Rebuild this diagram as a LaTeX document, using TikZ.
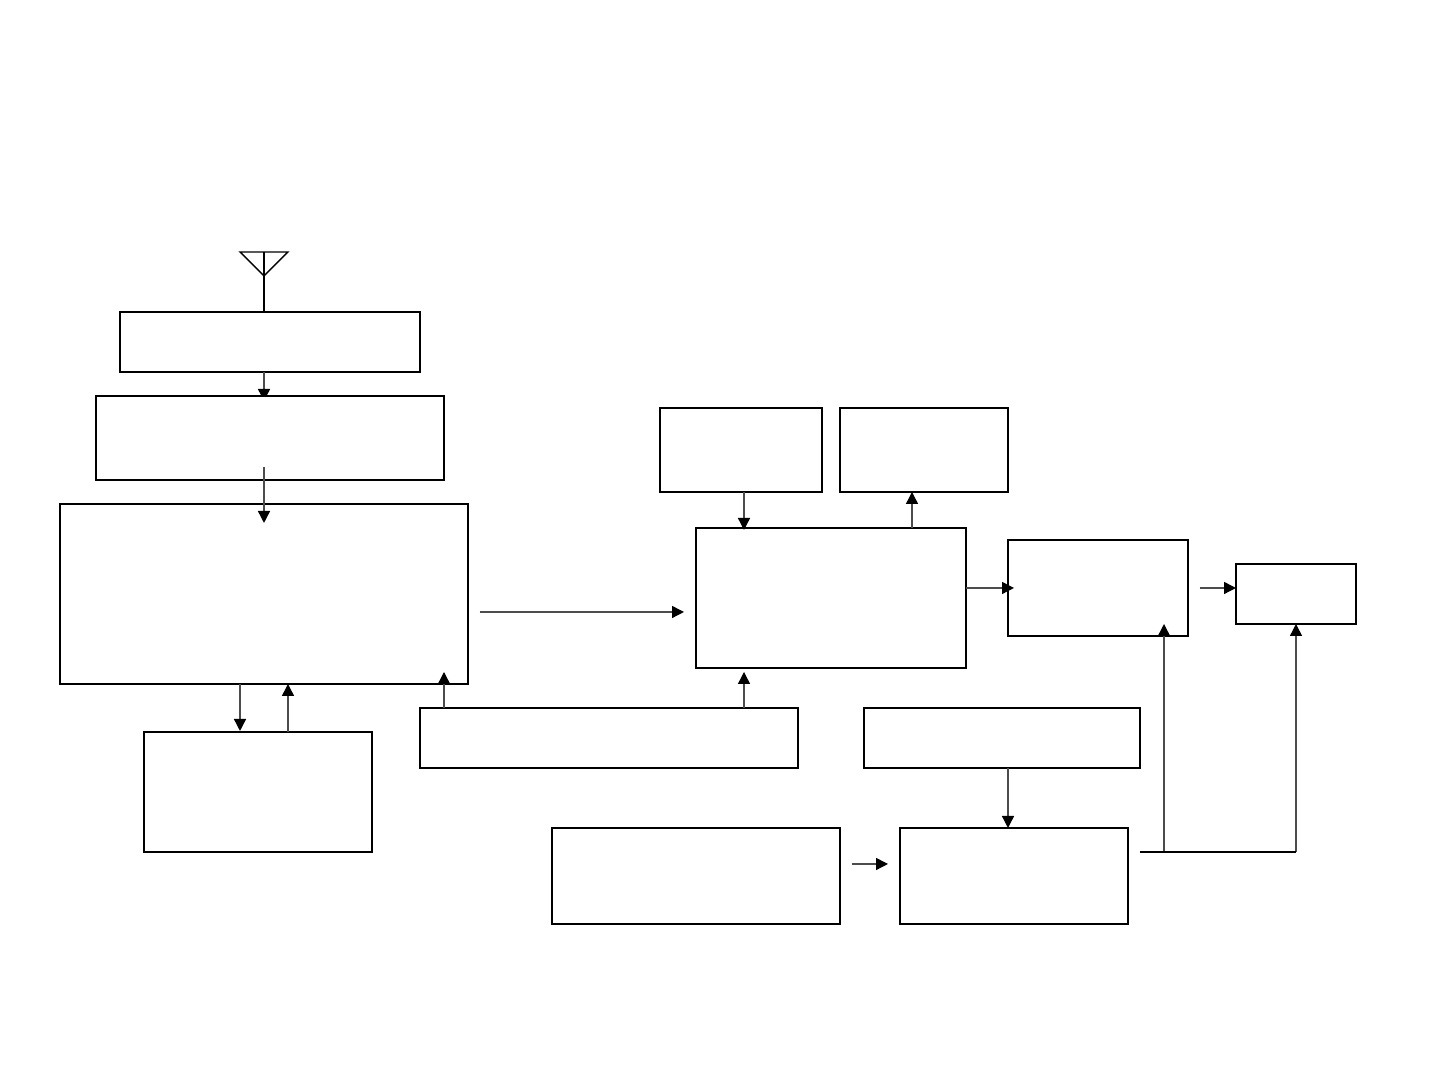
\documentclass[tikz,border=0pt]{standalone}
\usetikzlibrary{arrows.meta}
\begin{document}
\begin{tikzpicture}[
  blockbox/.style={rectangle, draw=black, fill=white, line width=0.5pt, inner sep=0pt, outer sep=0pt},
  arrow/.style={-{Triangle[length=0.12cm, width=0.12cm, color=black]}, line width=0.4pt, black!70}
]
  \useasboundingbox (0,0) rectangle (14.4,10.8);

  % Antenna and receive chain (left)
  \coordinate (antleft) at (2.40,8.28);
  \coordinate (antright) at (2.88,8.28);
  \coordinate (anttop) at (2.64,8.28);
  \coordinate (antfoot) at (2.64,8.04);
  \node[blockbox, minimum width=3cm, minimum height=0.6cm] (filterbox) at (2.70,7.38) {};
  \coordinate (filterout) at (2.64,7.08);
  \coordinate (tunerin) at (2.64,6.79);
  \coordinate (antbase) at (2.64,7.68);
  \draw[line width=0.4pt] (antleft) -- (antright) -- (antfoot) -- cycle;
  \draw[line width=0.4pt] (anttop) -- (antbase);
  \draw[arrow] (filterout) -- (tunerin);
  \node[blockbox, minimum width=3.48cm, minimum height=0.84cm] (tunerbox) at (2.70,6.42) {};
  \node[blockbox, minimum width=4.08cm, minimum height=1.8cm] (mainbox) at (2.64,4.86) {};
  \node[blockbox, minimum width=2.28cm, minimum height=1.2cm] (memorybox) at (2.58,2.88) {};

  % Lower control row
  \node[blockbox, minimum width=3.78cm, minimum height=0.6cm] (ctrlbox) at (6.09,3.42) {};
  \node[blockbox, minimum width=2.76cm, minimum height=0.6cm] (supplybox) at (10.02,3.42) {};
  \node[blockbox, minimum width=2.88cm, minimum height=0.96cm] (clockbox) at (6.96,2.04) {};
  \node[blockbox, minimum width=2.28cm, minimum height=0.96cm] (powerbox) at (10.14,2.04) {};

  % Decoder and output chain (right)
  \node[blockbox, minimum width=1.62cm, minimum height=0.84cm] (inbox) at (7.41,6.30) {};
  \node[blockbox, minimum width=1.68cm, minimum height=0.84cm] (outbox) at (9.24,6.30) {};
  \node[blockbox, minimum width=2.7cm, minimum height=1.4cm] (decodebox) at (8.31,4.82) {};
  \node[blockbox, minimum width=1.8cm, minimum height=0.96cm] (ampbox) at (10.98,4.92) {};
  \node[blockbox, minimum width=1.2cm, minimum height=0.6cm] (endbox) at (12.96,4.86) {};

  % Free ends of the arrows
  \coordinate (tunerout) at (2.64,6.13);
  \coordinate (mainin) at (2.64,5.57);
  \coordinate (maindown) at (2.40,3.96);
  \coordinate (memoryin) at (2.40,3.49);
  \coordinate (memoryup) at (2.88,3.48);
  \coordinate (mainup) at (2.88,3.96);
  \coordinate (ctrlleft) at (4.44,3.72);
  \coordinate (mainctrl) at (4.44,4.08);
  \coordinate (ctrlright) at (7.44,3.72);
  \coordinate (decodectrl) at (7.44,4.08);
  \coordinate (mainout) at (4.795,4.68);
  \coordinate (decodein) at (6.84,4.68);
  \coordinate (indown) at (7.44,5.88);
  \coordinate (decodetop) at (7.44,5.50);
  \coordinate (decodeup) at (9.12,5.52);
  \coordinate (outin) at (9.12,5.88);
  \coordinate (decodeout) at (9.66,4.92);
  \coordinate (ampin) at (10.14,4.92);
  \coordinate (ampout) at (11.995,4.92);
  \coordinate (endin) at (12.36,4.92);
  \coordinate (supplyout) at (10.08,3.12);
  \coordinate (powerin) at (10.08,2.52);
  \coordinate (clockout) at (8.515,2.16);
  \coordinate (powerleft) at (8.88,2.16);
  \coordinate (busstart) at (11.395,2.28);
  \coordinate (busamp) at (11.64,2.28);
  \coordinate (busend) at (12.96,2.28);
  \coordinate (ampfeed) at (11.64,4.56);
  \coordinate (endfeed) at (12.96,4.56);

  % Arrows
  \draw[arrow] (tunerout) -- (mainin);
  \draw[arrow] (maindown) -- (memoryin);
  \draw[arrow] (memoryup) -- (mainup);
  \draw[arrow] (ctrlleft) -- (mainctrl);
  \draw[arrow] (ctrlright) -- (decodectrl);
  \draw[arrow] (mainout) -- (decodein);
  \draw[arrow] (indown) -- (decodetop);
  \draw[arrow] (decodeup) -- (outin);
  \draw[arrow] (decodeout) -- (ampin);
  \draw[arrow] (ampout) -- (endin);
  \draw[arrow] (supplyout) -- (powerin);
  \draw[arrow] (clockout) -- (powerleft);
  \draw[arrow] (busamp) -- (ampfeed);
  \draw[arrow] (busend) -- (endfeed);
  \draw[line width=0.5pt] (busstart) -- (busend);
\end{tikzpicture}
\end{document}
